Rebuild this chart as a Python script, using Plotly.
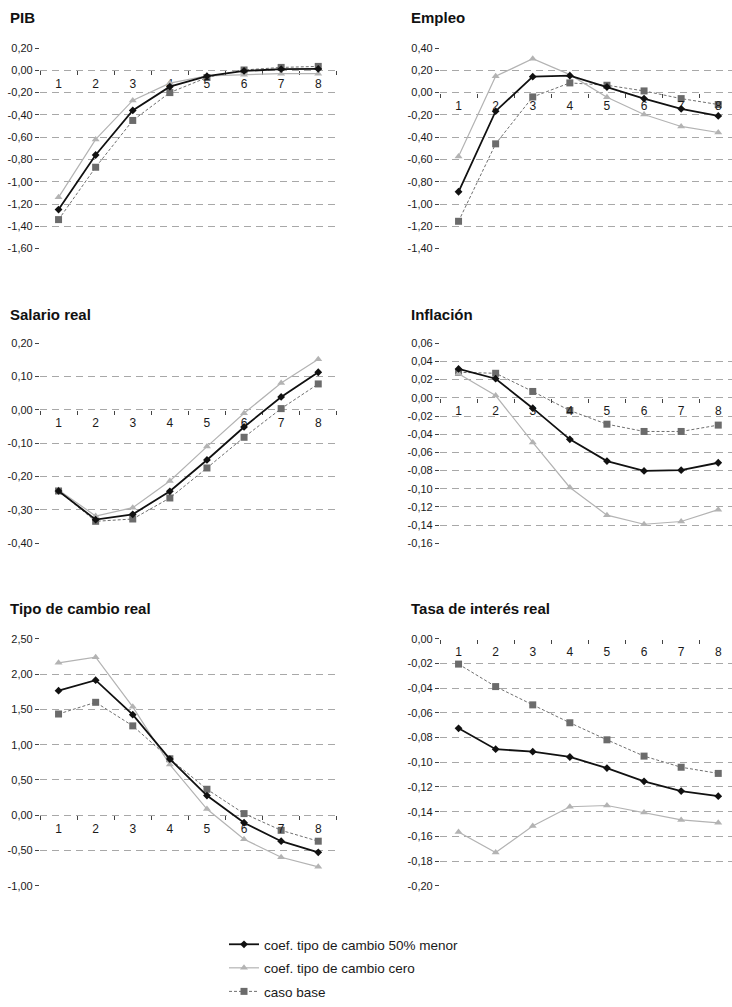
import numpy as np
import plotly.graph_objects as go

# Periodos (trimestres) del eje horizontal
periodos = ["1", "2", "3", "4", "5", "6", "7", "8"]

# Nombres de los escenarios
nombre_menor = "coef. tipo de cambio 50% menor"
nombre_cero = "coef. tipo de cambio cero"
nombre_base = "caso base"

# PIB
pib_menor = [-1.25, -0.76, -0.36, -0.147, -0.053, -0.006, 0.01, 0.012]
pib_cero = [-1.14, -0.62, -0.27, -0.115, -0.05, -0.04, -0.03, -0.03]
pib_base = [-1.34, -0.87, -0.45, -0.20, -0.065, 0.003, 0.026, 0.035]

# Empleo
emp_menor = [-0.89, -0.167, 0.143, 0.152, 0.05, -0.054, -0.146, -0.209]
emp_cero = [-0.573, 0.146, 0.304, 0.161, -0.042, -0.197, -0.304, -0.358]
emp_base = [-1.155, -0.46, -0.039, 0.087, 0.066, 0.015, -0.054, -0.107]

# Salario real
sal_menor = [-0.243, -0.329, -0.313, -0.244, -0.15, -0.051, 0.039, 0.113]
sal_cero = [-0.24, -0.318, -0.293, -0.213, -0.11, -0.01, 0.081, 0.152]
sal_base = [-0.243, -0.334, -0.327, -0.264, -0.174, -0.082, 0.004, 0.078]

# Inflación
inf_menor = [0.0318, 0.021, -0.0114, -0.0457, -0.0696, -0.0804, -0.0796, -0.0714]
inf_cero = [0.0264, 0.0025, -0.049, -0.0986, -0.129, -0.139, -0.136, -0.123]
inf_base = [0.028, 0.027, 0.007, -0.014, -0.029, -0.037, -0.037, -0.030]

# Tipo de cambio real
tcr_menor = [1.764, 1.913, 1.425, 0.796, 0.279, -0.107, -0.368, -0.526]
tcr_cero = [2.16, 2.24, 1.536, 0.717, 0.088, -0.34, -0.596, -0.731]
tcr_base = [1.434, 1.60, 1.266, 0.80, 0.368, 0.023, -0.214, -0.368]

# Tasa de interés real
tir_menor = [-0.0725, -0.0894, -0.0914, -0.0957, -0.1047, -0.1154, -0.1233, -0.1274]
tir_cero = [-0.1565, -0.173, -0.1516, -0.136, -0.135, -0.1407, -0.1467, -0.149]
tir_base = [-0.0205, -0.0387, -0.0535, -0.068, -0.0818, -0.095, -0.104, -0.109]

# Rango y paso de cada eje vertical
rangos = {
    "PIB": (-1.6, 0.2, 0.2),
    "Empleo": (-1.4, 0.4, 0.2),
    "Salario real": (-0.4, 0.2, 0.1),
    "Inflación": (-0.16, 0.06, 0.02),
    "Tipo de cambio real": (-1.0, 2.5, 0.5),
    "Tasa de interés real": (-0.20, 0.00, 0.02),
}

paneles = [
    ("PIB", pib_menor, pib_cero, pib_base),
    ("Empleo", emp_menor, emp_cero, emp_base),
    ("Salario real", sal_menor, sal_cero, sal_base),
    ("Inflación", inf_menor, inf_cero, inf_base),
    ("Tipo de cambio real", tcr_menor, tcr_cero, tcr_base),
    ("Tasa de interés real", tir_menor, tir_cero, tir_base),
]

W, H = 732, 1007
FUENTE = "Liberation Sans, Arial, sans-serif"
TEXTO = "#1a1a1a"


def fx(p):
    return p / W


def fy(p):
    return 1 - p / H


# Marco de cada columna y fila (píxeles)
columnas = [(40, 337, 8), (440, 732, 409)]
filas = [(42.7, 246.5, 12), (342.7, 546, 313), (643, 894, 612)]
ancho_banda = 37.1

estilos = {
    "menor": dict(line=dict(color="#111111", width=1.8),
                  marker=dict(symbol="diamond", size=6, color="#111111")),
    "cero": dict(line=dict(color="#b3b3b3", width=1.2),
                 marker=dict(symbol="triangle-up", size=7, color="#b3b3b3")),
    "base": dict(line=dict(color="#6f6f6f", width=1, dash="3px,2px"),
                 marker=dict(symbol="square", size=7, color="#6b6b6b")),
}


def etiqueta(v):
    s = f"{v:.2f}".replace(".", ",")
    return "0,00" if s == "-0,00" else s


fig = go.Figure()
layout = dict(
    width=W, height=H, autosize=False,
    margin=dict(l=0, r=0, t=0, b=0),
    paper_bgcolor="white", plot_bgcolor="white",
    font=dict(family=FUENTE, color=TEXTO, size=11),
)
anotaciones = []

for i, (titulo, s_menor, s_cero, s_base) in enumerate(paneles):
    n = i + 1
    col = columnas[i % 2]
    fila = filas[i // 2]
    lo, hi, paso = rangos[titulo]
    x0, x1, xt = col
    y0, y1, yt = fila

    xdom = [fx(x0), fx(x1)]
    ydom = [fy(y1), fy(y0)]
    xr = [-0.5, -0.5 + (x1 - x0) / ancho_banda]

    tickvals = [round(v, 4) for v in np.arange(lo, hi + paso / 2, paso)]
    ticktext = [etiqueta(v) for v in tickvals]

    # Eje horizontal situado sobre la línea del cero
    pos0 = ydom[0] + (0 - lo) / (hi - lo) * (ydom[1] - ydom[0])

    xname = "xaxis" if n == 1 else f"xaxis{n}"
    yname = "yaxis" if n == 1 else f"yaxis{n}"
    layout[xname] = dict(
        type="category", domain=xdom, range=xr,
        anchor="free", position=pos0,
        showline=True, linecolor="#444444", linewidth=1.2,
        ticks="outside", ticklen=4, tickcolor="#444444", tickwidth=1,
        tickson="boundaries", showgrid=False, zeroline=False,
        tickfont=dict(size=12, color=TEXTO, family=FUENTE),
        ticklabelstandoff=2,
        fixedrange=True,
    )
    layout[yname] = dict(
        domain=ydom, range=[lo, hi], anchor=f"x{n}" if n > 1 else "x",
        tickmode="array", tickvals=tickvals, ticktext=ticktext,
        showline=True, linecolor="#444444", linewidth=1.2,
        ticks="outside", ticklen=4, tickcolor="#444444",
        showgrid=True, gridcolor="#a8a8a8", gridwidth=1.2, griddash="7px,5px",
        zeroline=False,
        tickfont=dict(size=11, color=TEXTO, family=FUENTE),
        fixedrange=True,
    )

    xref = "x" if n == 1 else f"x{n}"
    yref = "y" if n == 1 else f"y{n}"
    for clave, nombre, serie, z in (("menor", nombre_menor, s_menor, 3),
                                     ("cero", nombre_cero, s_cero, 2),
                                     ("base", nombre_base, s_base, 1)):
        fig.add_trace(go.Scatter(
            x=periodos, y=serie, mode="lines+markers", name=nombre,
            xaxis=xref, yaxis=yref, zorder=z,
            legendgroup=clave, showlegend=(n == 1),
            cliponaxis=False,
            **estilos[clave],
        ))

    anotaciones.append(dict(
        text=titulo, xref="paper", yref="paper",
        x=fx(xt), y=fy(yt), xanchor="left", yanchor="middle",
        showarrow=False,
        font=dict(family=FUENTE, size=15, color="#111111", weight="bold"),
    ))

layout["annotations"] = anotaciones
layout["legend"] = dict(
    x=fx(224), y=fy(938), xanchor="left", yanchor="top",
    orientation="v", traceorder="grouped", tracegroupgap=3,
    itemwidth=30, bgcolor="rgba(0,0,0,0)",
    font=dict(family=FUENTE, size=13.5, color=TEXTO),
)
layout["showlegend"] = True
fig.update_layout(**layout)

fig.write_html("out.html")
